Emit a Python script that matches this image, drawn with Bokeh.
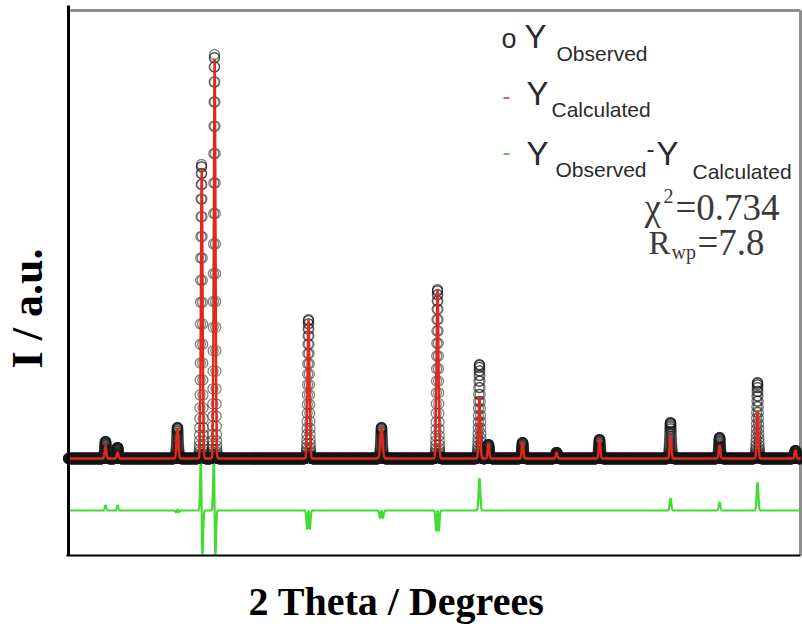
import numpy as np
from math import pi
from bokeh.plotting import figure
from bokeh.models import Range1d, Label, FixedTicker
from bokeh.embed import file_html
from bokeh.resources import INLINE

# ---------------- data ----------------
two_theta_start = 10.0
two_theta_end = 80.0
two_theta_step = 0.01

# Bragg reflections: position (deg 2theta), observed and calculated peak heights (counts)
peak_pos = [13.54, 14.69, 20.42, 22.72, 23.96, 32.95, 39.93, 45.29, 49.30,
            50.16, 53.42, 56.67, 60.78, 67.57, 72.26, 75.89, 79.52]
obs_height = [170, 110, 310, 2940, 4040, 1390, 310, 1690, 940,
              140, 160, 60, 190, 360, 210, 760, 80]
calc_height = [120, 60, 300, 2900, 4000, 1390, 310, 1690, 620,
               140, 160, 60, 190, 240, 130, 480, 80]
calc_shift = [0, 0, 0, 0.021, 0.0155, 0, 0, 0, 0,
              0, 0, 0, 0, 0, 0, 0, 0]
calc_width_factor = [1, 1, 1.1, 1, 1, 1.2, 1.4, 1.18, 1,
                     1, 1, 1, 1, 1, 1, 1, 1]
peak_sigma = 0.08
background = 0
diff_offset = -520

tt = np.arange(two_theta_start, two_theta_end + two_theta_step / 2, two_theta_step)


def peak(center, height, sigma):
    return height * np.exp(-0.5 * ((tt - center) / sigma) ** 2)


y_obs = background + sum(peak(c, h, peak_sigma) for c, h in zip(peak_pos, obs_height))
y_calc = background + sum(peak(c + s, h, peak_sigma * w)
                          for c, h, s, w in zip(peak_pos, calc_height, calc_shift, calc_width_factor))
y_diff = y_obs - y_calc + diff_offset

# ---------------- figure ----------------
# plotting box (page pixels) and its data limits
FX0, FX1, FY0, FY1 = 68.0, 800.0, 10.0, 555.0
X0, X1 = 10.0, 80.0
Y0, Y1 = -970.0, 4480.0
W, H = 802, 630
kx = (X1 - X0) / (FX1 - FX0)
ky = (Y1 - Y0) / (FY1 - FY0)

# the frame covers the whole canvas so that the axis titles can be drawn as labels
p = figure(width=W, height=H,
           x_range=Range1d(X0 - FX0 * kx, X1 + (W - FX1) * kx),
           y_range=Range1d(Y0 - (H - FY1) * ky, Y1 + FY0 * ky),
           output_backend="svg", toolbar_location=None,
           min_border_left=0, min_border_right=0, min_border_top=0, min_border_bottom=0)
p.xgrid.visible = False
p.ygrid.visible = False
p.background_fill_color = "white"
p.border_fill_color = "white"
p.outline_line_color = None


def dx(px):
    return X0 + (px - FX0) * kx


def dy(py):
    return Y1 - (py - FY0) * ky


for ax in (p.xaxis, p.yaxis):
    ax.ticker = FixedTicker(ticks=[])
    ax.major_label_text_font_size = "0px"
    ax.major_label_standoff = 0
    ax.major_tick_in = 0
    ax.major_tick_out = 0
    ax.minor_tick_in = 0
    ax.minor_tick_out = 0
    ax.axis_line_color = "black"
p.xaxis.fixed_location = Y0
p.xaxis.bounds = (dx(66), X1)
p.xaxis.axis_line_width = 2
p.yaxis.fixed_location = X0
p.yaxis.bounds = (Y0, dy(5))
p.yaxis.axis_line_width = 3

# grey top / right border of the plotting box
p.segment(x0=[X0, X1], y0=[Y1, Y0], x1=[X1, X1], y1=[Y1, Y1],
          line_color="#8f8f8f", line_width=3)

p.line(tt, y_diff, line_color="#40dc30", line_width=2.2)
p.scatter(tt, y_obs, marker="circle", size=10, fill_color=None,
          line_color="#1a1a1a", line_alpha=0.55, line_width=1.3)
p.line(tt, y_calc, line_color="#e0281c", line_width=2.4)

TEXT_SHIFT = -9  # empirical correction of the alphabetic baseline


def lab(px, py, text, size, font="Liberation Sans", color="#2b2b2b"):
    p.add_layout(Label(x=dx(px), y=dy(py + TEXT_SHIFT), text=text, text_font=font,
                       text_font_size=f"{size}px", text_color=color,
                       text_align="left", text_baseline="alphabetic"))


# legend-like annotation
lab(501, 47, "o", 27)
lab(524, 45, "Y", 33)
lab(556, 62, "Observed", 21)

lab(502, 104, "-", 24, color="#d85a66")
lab(526, 102, "Y", 33)
lab(551, 118, "Calculated", 21)

lab(502, 160, "-", 24, color="#5cc05c")
lab(526, 162, "Y", 33)
lab(555, 178, "Observed", 21)
lab(646, 157, "-", 24)
lab(656, 162, "Y", 33)
lab(692, 180, "Calculated", 21)

# fit statistics
lab(644, 216, "\u03c7", 37, font="Liberation Serif", color="#3a3a3a")
lab(663, 204, "2", 20, font="Liberation Serif", color="#3a3a3a")
lab(675, 216, "=0.734", 37, font="Liberation Serif", color="#3a3a3a")
lab(648, 251, "R", 33, font="Liberation Serif", color="#3a3a3a")
lab(671, 260, "wp", 20, font="Liberation Serif", color="#3a3a3a")
lab(697, 251, "=7.8", 37, font="Liberation Serif", color="#3a3a3a")

# axis titles
p.add_layout(Label(x=dx(27), y=dy(308), text="I / a.u.", angle=pi / 2,
                   text_font="Liberation Serif", text_font_size="44px", text_font_style="bold",
                   text_color="black", text_align="center", text_baseline="middle"))
p.add_layout(Label(x=dx(396), y=dy(601), text="2 Theta / Degrees",
                   text_font="Liberation Serif", text_font_size="40px", text_font_style="bold",
                   text_color="black", text_align="center", text_baseline="middle"))

open("out.html", "w").write(file_html(p, INLINE))
